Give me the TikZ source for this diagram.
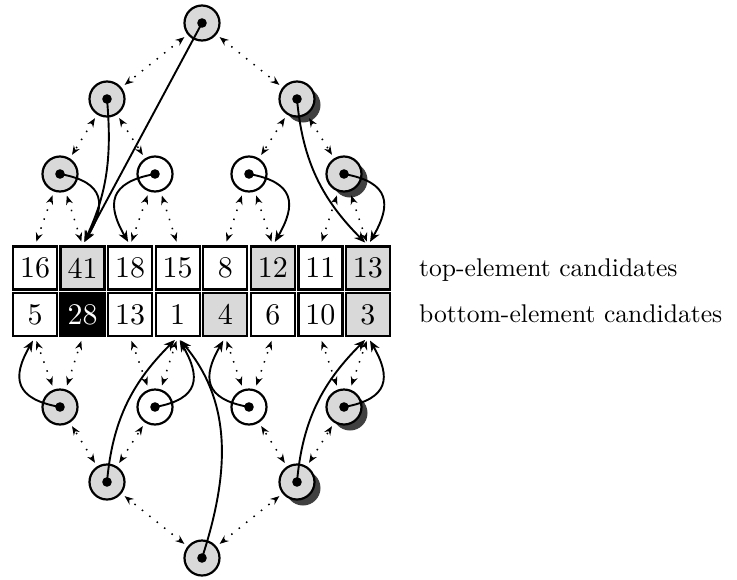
\documentclass[tikz,border=0pt]{standalone}
\usepackage{fontspec}
\setmainfont{lmroman10-regular.otf}
\usetikzlibrary{arrows.meta,shadows}
\definecolor{lgray}{gray}{0.85}
\definecolor{sgray}{gray}{0.25}
\begin{document}
\begin{tikzpicture}[x=1pt,y=1pt,
  tn/.style={circle,draw,line width=2.2pt,minimum size=35pt,inner sep=0pt,fill=lgray},
  wn/.style={tn,fill=white},
  shad/.style={drop shadow={opacity=1,fill=sgray,shadow xshift=6pt,shadow yshift=-6pt}},
  cell/.style={rectangle,draw,line width=2.2pt,minimum width=44pt,minimum height=43pt,inner sep=0pt,font=\fontsize{30}{32}\selectfont},
  gc/.style={cell,fill=lgray},
  bc/.style={cell,fill=black,text=white},
  dots/.style={line width=1.5pt,dash pattern=on 1.5pt off 8pt,{Stealth[length=9pt,width=7pt,inset=3pt]}-{Stealth[length=9pt,width=7pt,inset=3pt]},shorten <=4pt,shorten >=4pt},
  sol/.style={line width=1.9pt,-{Stealth[length=11pt,width=9pt,inset=3.5pt]},shorten >=4pt},
  loopR/.style={sol,out=-10,in=60,looseness=1.6},
  loopL/.style={sol,out=190,in=120,looseness=1.6},
  bloopR/.style={sol,out=10,in=-60,looseness=1.6},
  bloopL/.style={sol,out=170,in=-120,looseness=1.6},
  lab/.style={anchor=base west,font=\fontsize{25.6}{30}\selectfont,inner sep=0pt}]
\useasboundingbox (0,0) rectangle (737,-579);

% cells
\foreach \v/\s [count=\i] in {16/cell,41/gc,18/cell,15/cell,8/cell,12/gc,11/cell,13/gc}
  \node[\s] (c\i) at ({35+47.57*(\i-1)},-268) {\v};
\foreach \v/\s [count=\i] in {5/cell,28/bc,13/cell,1/cell,4/gc,6/cell,10/cell,3/gc}
  \node[\s] (g\i) at ({35+47.57*(\i-1)},-314.5) {\v};

\node[lab] (lt) at (419,-276) {top-element candidates};
\node[lab] (lb) at (419,-322) {bottom-element candidates};

% top tree
\node[tn] (r) at (202,-23) {};
\node[tn] (a1) at (107,-99) {};
\node[tn,shad] (a2) at (297,-99) {};
\node[tn] (b1) at (60,-174) {};
\node[wn] (b2) at (155,-174) {};
\node[wn] (b3) at (249,-174) {};
\node[tn,shad] (b4) at (344,-174) {};
% bottom tree
\node[tn] (d1) at (60,-407) {};
\node[wn] (d2) at (155,-407) {};
\node[wn] (d3) at (249,-407) {};
\node[tn,shad] (d4) at (344,-407) {};
\node[tn] (e1) at (107,-482) {};
\node[tn,shad] (e2) at (297,-482) {};
\node[tn] (f) at (202,-558) {};

\foreach \n in {r,a1,a2,b1,b2,b3,b4,d1,d2,d3,d4,e1,e2,f}
  \fill (\n.center) circle (4.8);

% dotted links
\draw[dots] (r) -- (a1);
\draw[dots] (r) -- (a2);
\draw[dots] (a1) -- (b1);
\draw[dots] (a1) -- (b2);
\draw[dots] (a2) -- (b3);
\draw[dots] (a2) -- (b4);
\draw[dots] (b1) -- (c1.north);
\draw[dots] (b1) -- (c2.north);
\draw[dots] (b2) -- (c3.north);
\draw[dots] (b2) -- (c4.north);
\draw[dots] (b3) -- (c5.north);
\draw[dots] (b3) -- (c6.north);
\draw[dots] (b4) -- (c7.north);
\draw[dots] (b4) -- (c8.north);
\draw[dots] (f) -- (e1);
\draw[dots] (f) -- (e2);
\draw[dots] (e1) -- (d1);
\draw[dots] (e1) -- (d2);
\draw[dots] (e2) -- (d3);
\draw[dots] (e2) -- (d4);
\draw[dots] (d1) -- (g1.south);
\draw[dots] (d1) -- (g2.south);
\draw[dots] (d2) -- (g3.south);
\draw[dots] (d2) -- (g4.south);
\draw[dots] (d3) -- (g5.south);
\draw[dots] (d3) -- (g6.south);
\draw[dots] (d4) -- (g7.south);
\draw[dots] (d4) -- (g8.south);

% solid arrows (top)
\draw[sol] (r.center) -- (c2.north);
\draw[sol] (a1.center) to[out=-85,in=65] (c2.north);
\draw[loopR] (b1.center) to (c2.north);
\draw[loopL] (b2.center) to (c3.north);
\draw[loopR] (b3.center) to (c6.north);
\draw[loopR] (b4.center) to (c8.north);
\draw[sol] (a2.center) to[out=-85,in=135] (c8.north);
% solid arrows (bottom)
\draw[bloopL] (d1.center) to (g1.south);
\draw[bloopR] (d2.center) to (g4.south);
\draw[bloopL] (d3.center) to (g5.south);
\draw[bloopR] (d4.center) to (g8.south);
\draw[sol] (e1.center) to[out=85,in=-135] (g4.south);
\draw[sol] (e2.center) to[out=85,in=-135] (g8.south);
\draw[sol] (f.center) to[out=72,in=-50] (g4.south);
\end{tikzpicture}
\end{document}
